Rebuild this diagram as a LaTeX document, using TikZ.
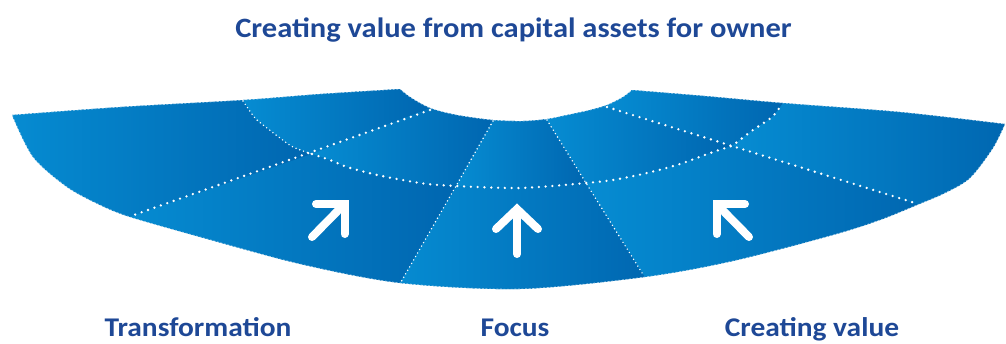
\documentclass[tikz,border=0pt]{standalone}
\usepackage{fontspec}
\usepackage{graphicx}
\setmainfont{Carlito}
\usetikzlibrary{calc}
\definecolor{tlight}{RGB}{6,140,210}
\definecolor{tdark}{RGB}{0,102,176}
\definecolor{tbase}{RGB}{0,118,190}
\definecolor{ttitle}{RGB}{30,72,150}
\newcommand{\widetext}[1]{\scalebox{1.09}[1]{#1}}
\begin{document}
\begin{tikzpicture}[x=1pt,y=-1pt,
  tile/.style={left color=tlight,right color=tdark},
  bigdots/.style={draw=white,line width=2.6pt,line cap=round,dash pattern=on 0pt off 6.8pt},
  smalldots/.style={draw=white,line width=1.6pt,line cap=round,dash pattern=on 0pt off 4pt},
  arrowline/.style={draw=white,line width=8pt,line cap=round,line join=miter},
  lbl/.style={text=ttitle,anchor=base,inner sep=0pt}]
\useasboundingbox (0,0) rectangle (1006,343);
\begin{scope}
\clip plot[smooth] coordinates {(12,115) (120,107) (243,100) (320,94) (400,89)}
  -- plot[smooth] coordinates {(400,89) (410,97) (430,108) (457,115) (493,120) (523,121) (547,119) (567,115) (590,110) (607,105) (623,97) (632,90)}
  -- plot[smooth] coordinates {(632,90) (705,96) (783,103) (900,112) (1005,124)}
  -- plot[smooth] coordinates {(1005,124) (993,148) (970,178) (945,193) (917,205) (880,220) (833,235) (733,261) (645,277) (520,289) (400,283) (300,264) (200,237) (130,217) (100,205) (67,187) (33,157) (12,115)} -- cycle;
\fill[tbase] (0,0) rectangle (1006,343);
% A
\shade[tile] (243,95) -- plot[smooth] coordinates {(243,100) (255,118) (267,128) (280,138) (293,147) (312,154)}
  -- (118,221) -- (5,221) -- (5,95) -- cycle;
% B
\shade[tile] (243,95) -- plot[smooth] coordinates {(243,100) (255,118) (267,128) (280,138) (293,147) (312,154)}
  -- (430,108) -- (430,85) -- (243,85) -- cycle;
% C
\shade[tile] (430,100) -- (430,108) -- (312,154)
  -- plot[smooth] coordinates {(312,154) (330,160) (347,167) (373,174) (397,179) (427,184) (456,186)}
  -- (493,120) -- (493,105) -- cycle;
% D
\shade[tile] (118,221) -- (312,154)
  -- plot[smooth] coordinates {(312,154) (330,160) (347,167) (373,174) (397,179) (427,184) (456,186)}
  -- (400,283) -- (392.5,296) -- (118,296) -- cycle;
% E
\shade[tile] (493,105) -- (493,120) -- (456,186)
  -- plot[smooth] coordinates {(456,186) (520,188) (586,183)}
  -- (547,120) -- (547,105) -- cycle;
% F
\shade[tile] plot[smooth] coordinates {(456,186) (520,188) (586,183)}
  -- (645,277) -- (656,295) -- (392.5,296) -- (400,283) -- cycle;
% G
\shade[tile] (547,105) -- (547,120) -- (586,183)
  -- plot[smooth] coordinates {(586,183) (613,180) (647,173) (680,164) (713,152) (732,146)}
  -- (607,106) -- (607,95) -- cycle;
% H
\shade[tile] (607,95) -- (607,106) -- (732,146)
  -- plot[smooth] coordinates {(732,146) (753,130) (772,117) (783,103)}
  -- (783,85) -- (632,85) -- cycle;
% I
\shade[tile] (783,85) -- (783,103)
  -- plot[smooth] coordinates {(783,103) (772,117) (753,130) (732,146)}
  -- (916,204) -- (930,208.4) -- (1012,208.4) -- (1012,85) -- cycle;
% J
\shade[tile] plot[smooth] coordinates {(586,183) (613,180) (647,173) (680,164) (713,152) (732,146)}
  -- (916,204) -- (930,208.4) -- (930,296) -- (656,295) -- (645,277) -- cycle;
\end{scope}
% outline
\draw[white,line width=0.7pt,dash pattern=on 2pt off 1.6pt,opacity=0.6]
  plot[smooth] coordinates {(12,115) (120,107) (243,100) (320,94) (400,89)}
  -- plot[smooth] coordinates {(400,89) (410,97) (430,108) (457,115) (493,120) (523,121) (547,119) (567,115) (590,110) (607,105) (623,97) (632,90)}
  -- plot[smooth] coordinates {(632,90) (705,96) (783,103) (900,112) (1005,124)}
  -- plot[smooth] coordinates {(1005,124) (993,148) (970,178) (945,193) (917,205) (880,220) (833,235) (733,261) (645,277) (520,289) (400,283) (300,264) (200,237) (130,217) (100,205) (67,187) (33,157) (12,115)} -- cycle;
% dotted lines
\coordinate (dl1) at (430,110);
\coordinate (dl2) at (131,216);
\coordinate (dr1) at (607,107);
\coordinate (dr2) at (915,203);
\coordinate (rl1) at (493,121);
\coordinate (rl2) at (401,282);
\coordinate (rr1) at (547,120);
\coordinate (rr2) at (644,276);
\path[bigdots] (dl1) -- (dl2);
\path[bigdots] (dr1) -- (dr2);
\path[smalldots] (rl1) -- (456,186) -- (rl2);
\path[smalldots] (rr1) -- (586,183) -- (rr2);
\path[smalldots] plot[smooth] coordinates {(243,101) (255,118) (267,128) (280,138) (293,147) (312,154)};
\path[bigdots] plot[smooth] coordinates {(312,154) (330,160) (347,167) (373,174) (397,179) (427,184) (456,186)}
  -- plot[smooth] coordinates {(456,186) (520,188) (586,183)}
  -- plot[smooth] coordinates {(586,183) (613,180) (647,173) (680,164) (713,152) (732,146)}
  -- plot[smooth] coordinates {(732,146) (753,130) (772,117) (782,104)};
% arrows
\coordinate (a1t) at (312,237);
\coordinate (a1c) at (344.5,204);
\coordinate (a1h) at (316,204);
\coordinate (a1v) at (344.5,234);
\path[arrowline] (a1h) -- (a1c) -- (a1v);
\path[arrowline] (a1t) -- ($(a1c)+(-2,2)$);
\coordinate (a2t) at (517,254);
\coordinate (a2c) at (517,209);
\coordinate (a2l) at (496,229);
\coordinate (a2r) at (538,229);
\path[arrowline] (a2l) -- (a2c) -- (a2r);
\path[arrowline] (a2t) -- ($(a2c)+(0,2)$);
\coordinate (a3t) at (749,237);
\coordinate (a3c) at (716.5,204);
\coordinate (a3h) at (745,204);
\coordinate (a3v) at (716.5,234);
\path[arrowline] (a3h) -- (a3c) -- (a3v);
\path[arrowline] (a3t) -- ($(a3c)+(2,2)$);
% texts
\node[lbl,font=\fontsize{28}{34}\selectfont\bfseries] (title) at (513.5,37.5) {\widetext{Creating value from capital assets for owner}};
\node[lbl,font=\fontsize{27}{32}\selectfont\bfseries] (l1) at (198,336.5) {\widetext{Transformation}};
\node[lbl,font=\fontsize{27}{32}\selectfont\bfseries] (l2) at (515,336.5) {\widetext{Focus}};
\node[lbl,font=\fontsize{27}{32}\selectfont\bfseries] (l3) at (812,336.5) {\widetext{Creating value}};
\end{tikzpicture}
\end{document}
